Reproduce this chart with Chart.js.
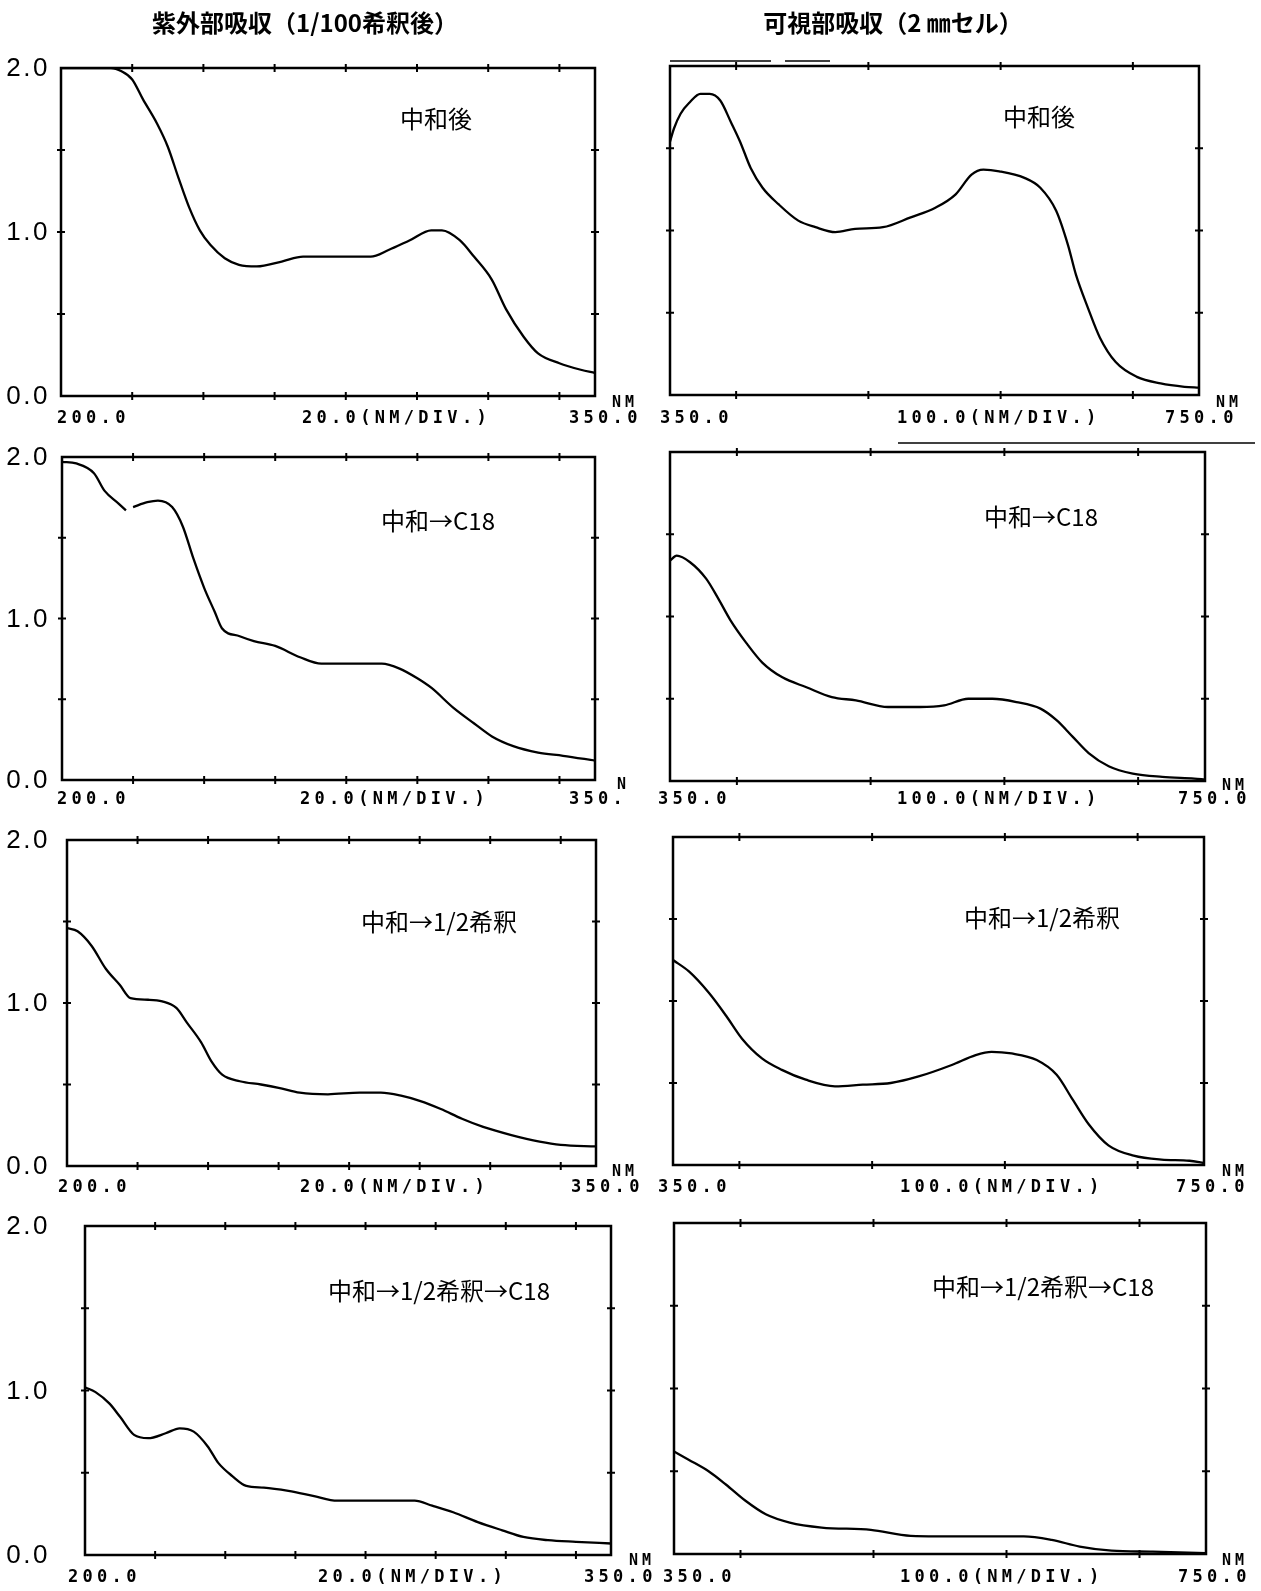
<!DOCTYPE html>
<html><head><meta charset="utf-8">
<script src="https://cdn.jsdelivr.net/npm/chart.js@4.4.1/dist/chart.umd.min.js"></script>
<style>
html,body{margin:0;padding:0;background:#fff;}
body{width:1261px;height:1591px;position:relative;overflow:hidden;}
canvas{position:absolute;}
</style></head><body>
<canvas id="c1"></canvas><canvas id="c2"></canvas><canvas id="c3"></canvas><canvas id="c4"></canvas>
<canvas id="c5"></canvas><canvas id="c6"></canvas><canvas id="c7"></canvas><canvas id="c8"></canvas>
<script>
// ---------- data ----------
const columnTitles = ['紫外部吸収（1/100希釈後）', '可視部吸収（2 ㎜セル）'];
const panelNames = ['中和後', '中和→C18', '中和→1/2希釈', '中和→1/2希釈→C18'];
const uvRange = [200, 350];
const visRange = [350, 750];
const uvTicks = [220, 240, 260, 280, 300, 320, 340];
const visTicks = [400, 500, 600, 700];
const yMinorTicks = [0.5, 1.0, 1.5];
const yLabelValues = [2.0, 1.0, 0.0];
const uvAxisTexts = ['200.0', '20.0(NM/DIV.)', '350.0', 'NM'];
const visAxisTexts = ['350.0', '100.0(NM/DIV.)', '750.0', 'NM'];

// UV: 中和後
const uvWl1  = [200,208,214,217,220,223,227,230,233,236,239,242,246,250,255,262,268,279,287,292,298,304,307,312,316,321,325,330,334,340,346,350];
const uvAbs1 = [2.0,2.0,2.0,1.98,1.93,1.81,1.66,1.52,1.33,1.15,1.01,0.92,0.84,0.80,0.79,0.82,0.85,0.85,0.85,0.89,0.95,1.01,1.01,0.95,0.85,0.71,0.53,0.36,0.26,0.20,0.16,0.14];
// UV: 中和→C18 (trace has a gap near 219 nm)
const uvWl2  = [200,204,209,212,216,218,219,220,224,227,231,234,237,240,243,245,250,254,260,267,273,279,290,295,300,304,310,316,321,327,334,341,350];
const uvAbs2 = [1.97,1.96,1.90,1.79,1.71,1.67,null,1.69,1.72,1.73,1.69,1.57,1.37,1.19,1.04,0.94,0.89,0.86,0.83,0.76,0.72,0.72,0.72,0.69,0.63,0.57,0.45,0.35,0.27,0.21,0.17,0.15,0.12];
// UV: 中和→1/2希釈
const uvWl3  = [200,203,207,211,215,218,223,227,231,234,238,241,244,249,255,260,266,274,283,289,295,300,306,312,318,326,334,340,350];
const uvAbs3 = [1.46,1.44,1.35,1.21,1.11,1.03,1.02,1.01,0.97,0.88,0.76,0.64,0.56,0.52,0.50,0.48,0.45,0.44,0.45,0.45,0.43,0.40,0.35,0.29,0.24,0.19,0.15,0.13,0.12];
// UV: 中和→1/2希釈→C18
const uvWl4  = [200,203,207,210,214,218,223,227,231,235,238,242,246,251,258,265,272,279,287,294,299,305,312,319,325,332,340,350];
const uvAbs4 = [1.02,0.99,0.92,0.84,0.73,0.71,0.74,0.77,0.75,0.66,0.56,0.48,0.42,0.41,0.39,0.36,0.33,0.33,0.33,0.33,0.30,0.26,0.20,0.15,0.11,0.09,0.08,0.07];
// Visible: 中和後
const visWl1  = [350,353,358,365,373,380,388,396,403,411,420,432,447,460,475,490,511,532,551,566,578,587,599,618,630,642,651,657,666,675,687,703,721,739,750];
const visAbs1 = [1.54,1.62,1.71,1.78,1.83,1.83,1.79,1.66,1.54,1.38,1.26,1.16,1.06,1.02,0.99,1.01,1.02,1.08,1.14,1.22,1.34,1.37,1.36,1.32,1.26,1.12,0.91,0.73,0.53,0.35,0.20,0.11,0.07,0.05,0.045];
// Visible: 中和→C18
const visWl2  = [350,355,365,377,386,395,407,419,434,452,471,489,513,537,555,573,591,609,627,639,651,663,678,696,718,742,750];
const visAbs2 = [1.34,1.37,1.33,1.23,1.11,0.98,0.84,0.72,0.63,0.57,0.51,0.49,0.45,0.45,0.46,0.50,0.50,0.48,0.44,0.37,0.27,0.17,0.09,0.045,0.025,0.015,0.01];
// Visible: 中和→1/2希釈
const visWl3  = [350,362,377,390,402,417,432,450,472,493,514,535,560,578,590,605,624,639,651,663,678,697,718,739,750];
const visAbs3 = [1.25,1.18,1.05,0.91,0.77,0.65,0.58,0.52,0.48,0.49,0.50,0.54,0.61,0.67,0.69,0.68,0.64,0.55,0.40,0.25,0.12,0.057,0.033,0.026,0.012];
// Visible: 中和→1/2希釈→C18
const visWl4  = [350,361,376,389,404,419,437,461,498,528,573,613,634,655,679,710,750];
const visAbs4 = [0.62,0.57,0.50,0.42,0.32,0.24,0.19,0.16,0.146,0.11,0.106,0.106,0.085,0.045,0.02,0.014,0.005];

// ---------- layout (page pixels) ----------
const layout = [
  {id:'c1', cv:[0,0,660,440],     fr:[61,68,595,396],    kind:'uv',  wl:uvWl1,  ab:uvAbs1,  name:[436,119], title:[305,23], yl:true,
   xt:[[57,419],[302,419],[569,419],[612,403]], lines:[]},
  {id:'c2', cv:[0,435,660,385],   fr:[62,457,595,780],   kind:'uv',  wl:uvWl2,  ab:uvAbs2,  name:[438,521], yl:true,
   xt:[[57,800],[300,800],[569,800],[617,785]], end:['350.','N'], lines:[]},
  {id:'c3', cv:[0,820,660,380],   fr:[67,840,596,1166],  kind:'uv',  wl:uvWl3,  ab:uvAbs3,  name:[439,922], yl:true,
   xt:[[58,1188],[300,1188],[571,1188],[612,1172]], lines:[]},
  {id:'c4', cv:[0,1200,660,391],  fr:[85,1226,611,1555], kind:'uv',  wl:uvWl4,  ab:uvAbs4,  name:[439,1291], yl:true,
   xt:[[68,1578],[318,1578],[584,1578],[629,1561]], lines:[]},
  {id:'c5', cv:[630,0,631,440],   fr:[670,66,1199,395],  kind:'vis', wl:visWl1, ab:visAbs1, name:[1039,117], title:[893,23], yl:false,
   xt:[[660,419],[897,419],[1165,419],[1216,403]], lines:[[670,61,771,61],[785,61,830,61]]},
  {id:'c6', cv:[630,435,631,385], fr:[670,452,1205,781], kind:'vis', wl:visWl2, ab:visAbs2, name:[1041,517], yl:false,
   xt:[[658,800],[897,800],[1178,800],[1222,786]], lines:[[898,443,1255,443]]},
  {id:'c7', cv:[630,820,631,380], fr:[673,837,1204,1165],kind:'vis', wl:visWl3, ab:visAbs3, name:[1042,918], yl:false,
   xt:[[658,1188],[900,1188],[1176,1188],[1222,1172]], lines:[]},
  {id:'c8', cv:[630,1200,631,391],fr:[674,1223,1206,1554],kind:'vis', wl:visWl4, ab:visAbs4, name:[1043,1287], yl:false,
   xt:[[663,1578],[900,1578],[1178,1578],[1222,1561]], lines:[]}
];

const MONO = 'bold 17px "DejaVu Sans Mono", "Liberation Mono", monospace';
const MONO_SMALL = 'bold 15px "DejaVu Sans Mono", "Liberation Mono", monospace';
const YFONT = '26px "Liberation Sans", Arimo, sans-serif';
const CJK = '"Noto Sans CJK JP", "Noto Sans CJK SC", sans-serif';

const deco = {
  id: 'deco',
  afterDatasetsDraw(chart, args, o) {
    const ctx = chart.ctx, a = chart.chartArea;
    const xs = chart.scales.x, ys = chart.scales.y;
    const ox = o.ox, oy = o.oy;
    ctx.save();
    ctx.strokeStyle = '#000'; ctx.fillStyle = '#000';
    // frame
    ctx.lineWidth = 2.5;
    ctx.strokeRect(a.left, a.top, a.right - a.left, a.bottom - a.top);
    // tick marks crossing the frame
    ctx.lineWidth = 2;
    o.xTicks.forEach(v => {
      const px = xs.getPixelForValue(v);
      [a.top, a.bottom].forEach(py => {
        ctx.beginPath(); ctx.moveTo(px, py - 4); ctx.lineTo(px, py + 4); ctx.stroke();
      });
    });
    yMinorTicks.forEach(v => {
      const py = ys.getPixelForValue(v);
      [a.left, a.right].forEach(px => {
        ctx.beginPath(); ctx.moveTo(px - 4, py); ctx.lineTo(px + 4, py); ctx.stroke();
      });
    });
    // y labels
    if (o.yl) {
      ctx.font = YFONT; ctx.textAlign = 'right'; ctx.textBaseline = 'middle';
      ctx.letterSpacing = '2.5px';
      yLabelValues.forEach(v => {
        ctx.fillText(v.toFixed(1), 50 - ox, ys.getPixelForValue(v) + 1);
      });
    }
    // x axis texts
    ctx.textAlign = 'left'; ctx.textBaseline = 'middle';
    o.xTexts.forEach((t, i) => {
      const p = o.xt[i];
      if (i === 3) { ctx.font = MONO_SMALL; ctx.letterSpacing = '4px'; }
      else { ctx.font = MONO; ctx.letterSpacing = '4.3px'; }
      ctx.fillText(t, p[0] - ox, p[1] - oy);
    });
    ctx.letterSpacing = '0px';
    // panel name
    ctx.font = '24px ' + CJK; ctx.textAlign = 'center'; ctx.textBaseline = 'middle';
    ctx.fillText(o.name, o.namePos[0] - ox, o.namePos[1] - oy);
    // column title
    if (o.title) {
      ctx.font = 'bold 24px ' + CJK;
      ctx.fillText(o.title, o.titlePos[0] - ox, o.titlePos[1] - oy);
    }
    // scan lines
    ctx.lineWidth = 1.5;
    o.lines.forEach(l => {
      ctx.beginPath(); ctx.moveTo(l[0] - ox, l[1] - oy); ctx.lineTo(l[2] - ox, l[3] - oy); ctx.stroke();
    });
    ctx.restore();
  }
};

layout.forEach((p, idx) => {
  const cv = document.getElementById(p.id);
  const [cl, ct, cw, ch] = p.cv;
  cv.width = cw; cv.height = ch;
  cv.style.left = cl + 'px'; cv.style.top = ct + 'px';
  cv.style.width = cw + 'px'; cv.style.height = ch + 'px';
  const [fl, ft, fr, fb] = p.fr;
  const uv = p.kind === 'uv';
  const range = uv ? uvRange : visRange;
  const texts = (uv ? uvAxisTexts : visAxisTexts).slice();
  if (p.end) { texts[2] = p.end[0]; texts[3] = p.end[1]; }
  const pts = p.wl.map((w, i) => ({x: w, y: p.ab[i]}));
  new Chart(cv, {
    type: 'line',
    data: { datasets: [{
      data: pts, borderColor: '#000', borderWidth: 2.3, pointRadius: 0,
      cubicInterpolationMode: 'monotone', spanGaps: false, fill: false
    }]},
    options: {
      responsive: false, animation: false, devicePixelRatio: 1,
      layout: { padding: { left: fl - cl, top: ft - ct, right: (cl + cw) - fr, bottom: (ct + ch) - fb } },
      plugins: {
        legend: { display: false }, tooltip: { enabled: false }, title: { display: false },
        deco: {
          ox: cl, oy: ct, xTicks: uv ? uvTicks : visTicks, yl: p.yl,
          xTexts: texts, xt: p.xt, name: panelNames[idx % 4], namePos: p.name,
          title: p.title ? columnTitles[uv ? 0 : 1] : null, titlePos: p.title, lines: p.lines
        }
      },
      scales: {
        x: { type: 'linear', min: range[0], max: range[1], display: false },
        y: { min: 0, max: 2, display: false }
      }
    },
    plugins: [deco]
  });
});
</script>
</body></html>
